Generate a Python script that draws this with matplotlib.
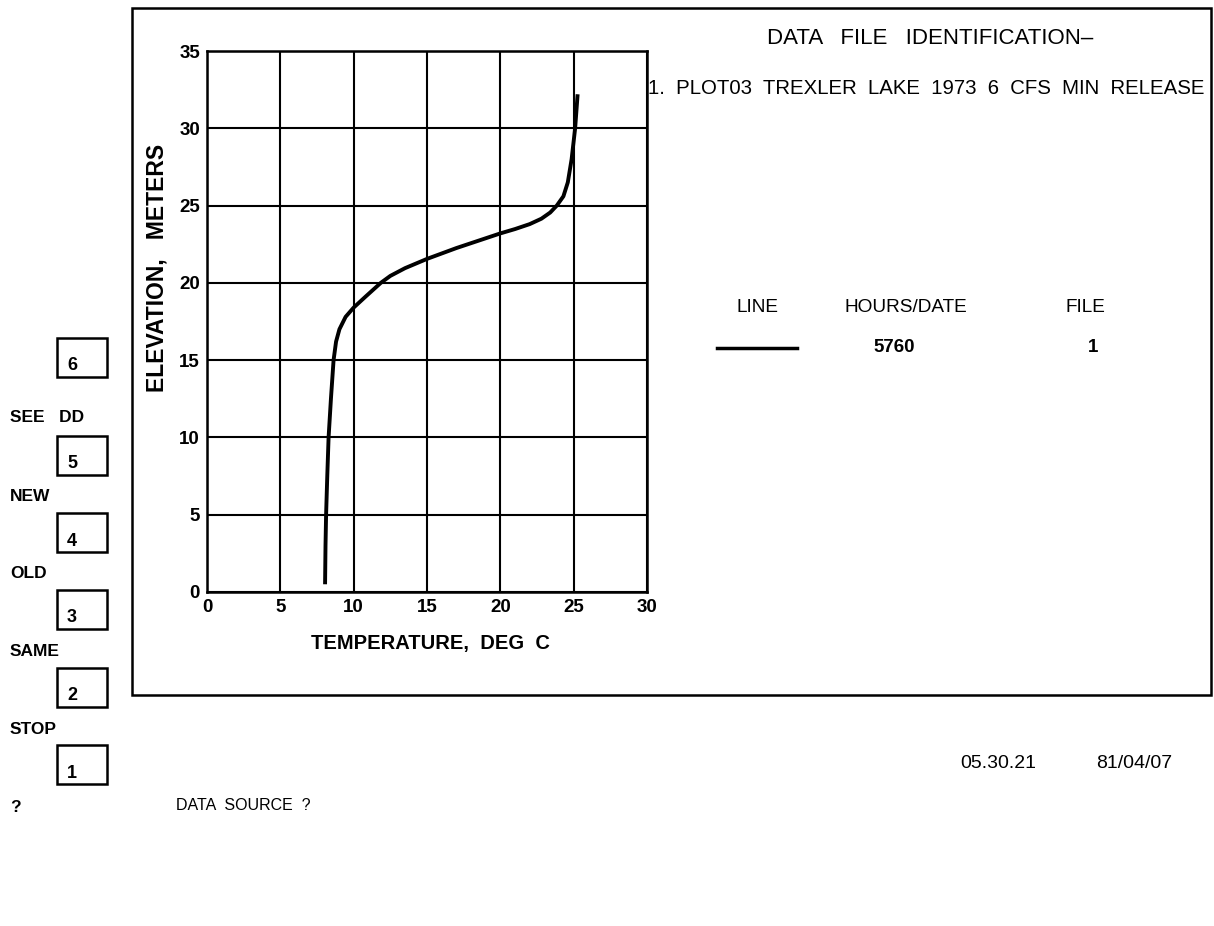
import matplotlib
matplotlib.use("Agg")
import matplotlib.pyplot as plt
from matplotlib.patches import Rectangle
from matplotlib.lines import Line2D

# Temperature profile (deg C) against elevation (m)
temperature = [8.05, 8.08, 8.12, 8.2, 8.29, 8.45, 8.63, 8.8, 9.03, 9.45, 10.0,
               10.8, 11.85, 12.5, 13.5, 15.0, 17.0, 20.0, 21.0, 22.0, 22.8,
               23.4, 23.85, 24.3, 24.6, 24.86, 25.1, 25.27]
elevation = [0.5, 3.0, 5.0, 7.5, 10.0, 12.5, 15.0, 16.2, 17.0, 17.8, 18.4,
             19.1, 20.0, 20.45, 20.95, 21.55, 22.25, 23.2, 23.48, 23.8, 24.15,
             24.55, 25.0, 25.6, 26.5, 28.0, 30.0, 32.2]

x_ticks = [0, 5, 10, 15, 20, 25, 30]
y_ticks = [0, 5, 10, 15, 20, 25, 30, 35]

menu_keys = ["6", "5", "4", "3", "2", "1"]
menu_labels = ["SEE   DD", "NEW", "OLD", "SAME", "STOP", "?"]

title_text = "DATA   FILE   IDENTIFICATION\u2013"
file_text = "1.  PLOT03  TREXLER  LAKE  1973  6  CFS  MIN  RELEASE"
legend_headers = ["LINE", "HOURS/DATE", "FILE"]
legend_values = ["5760", "1"]
time_stamp = "05.30.21"
date_stamp = "81/04/07"
prompt_text = "DATA  SOURCE  ?"

W, H = 1214, 926
plt.rcParams['font.family'] = ['Liberation Sans', 'DejaVu Sans']

fig = plt.figure(figsize=(W / 100, H / 100), dpi=100)
fig.patch.set_facecolor("white")


def fx(x):
    return x / W


def fy(y):
    return 1 - y / H


def label(x, y, s, size=14.5, weight="bold", ha="left", va="center", **kw):
    fig.text(fx(x), fy(y), s, fontsize=size, fontweight=weight, ha=ha, va=va,
             color="black", **kw)


# Outer frame
fig.add_artist(Rectangle((fx(132), fy(695)), fx(1211) - fx(132), fy(8) - fy(695),
                         transform=fig.transFigure, fill=False, lw=1.8,
                         edgecolor="black"))

# Main axes
ax = fig.add_axes([fx(207), fy(592), fx(647) - fx(207), fy(51) - fy(592)])
ax.set_xlim(0, 30)
ax.set_ylim(0, 35)
ax.set_xticks(x_ticks)
ax.set_yticks(y_ticks)
ax.grid(True, color="black", lw=1.5)
ax.tick_params(length=0, pad=5, labelsize=13.5)
for lab in ax.get_xticklabels() + ax.get_yticklabels():
    lab.set_fontweight("bold")
for sp in ax.spines.values():
    sp.set_linewidth(1.8)
ax.plot(temperature, elevation, color="black", lw=2.8,
        solid_capstyle="butt", solid_joinstyle="round")

label(430, 644, "TEMPERATURE,  DEG  C", ha="center")
label(157, 268, "ELEVATION,   METERS", ha="center", rotation=90, size=16.5)

# Right-hand identification panel
label(930, 38, title_text, weight="normal", size=16, ha="center")
label(648, 88, file_text, weight="normal", size=14.7)
label(757, 308, legend_headers[0], weight="normal", size=13.7, ha="center")
label(906, 308, legend_headers[1], weight="normal", size=13.7, ha="center")
label(1085, 308, legend_headers[2], weight="normal", size=13.7, ha="center")
fig.add_artist(Line2D([fx(717), fx(797)], [fy(348), fy(348)],
                      transform=fig.transFigure, color="black", lw=2.5))
label(894, 348, legend_values[0], size=13.5, ha="center")
label(1093, 348, legend_values[1], size=13.5, ha="center")

label(998, 763, time_stamp, weight="normal", size=14, ha="center")
label(1134, 763, date_stamp, weight="normal", size=14, ha="center")
label(176, 806, prompt_text, weight="normal", size=11.5)

# Function-key menu on the left
box_tops = [338, 436, 513, 590, 668, 745]
label_rows = [418, 496, 573, 652, 729, 808]
for key, text, top, ly in zip(menu_keys, menu_labels, box_tops, label_rows):
    fig.add_artist(Rectangle((fx(57), fy(top + 39)), fx(107) - fx(57),
                             fy(top) - fy(top + 39), transform=fig.transFigure,
                             fill=False, lw=1.8, edgecolor="black"))
    label(67, top + 28, key, size=13)
    label(10, ly, text, size=12.5)

fig.savefig("out.png", dpi=100)
